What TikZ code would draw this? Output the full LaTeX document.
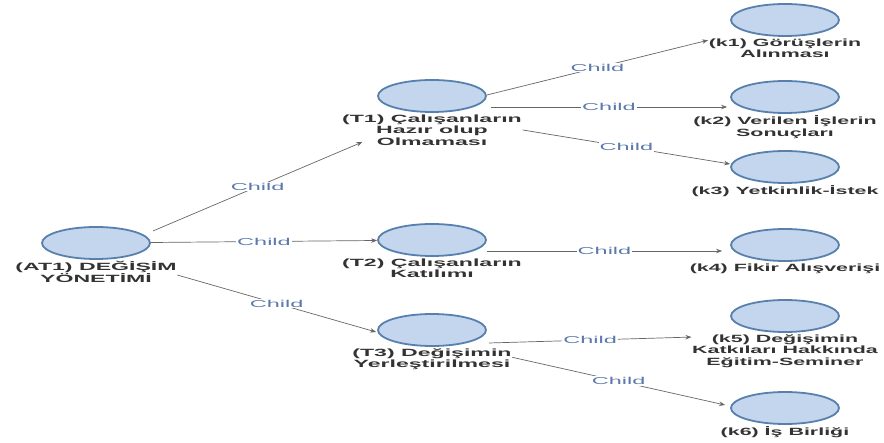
\documentclass[tikz,border=0pt]{standalone}
\usepackage{fontspec}
\setmainfont{Liberation Sans}[FakeStretch=2.2]
\newfontfamily\kodfont{Liberation Sans}[FakeStretch=2.04]
\newfontfamily\childfont{Liberation Sans}[FakeStretch=2.35]
\usetikzlibrary{arrows.meta,calc,positioning,shapes.geometric}

\definecolor{konuKenar}{RGB}{88,128,172}
\definecolor{konuDolgu}{RGB}{196,214,238}
\definecolor{childMavi}{RGB}{92,122,172}

\begin{document}
\begin{tikzpicture}[
  x=1pt, y=-1pt,
  konu/.style={ellipse, draw=konuKenar, line width=1.8pt, fill=konuDolgu, minimum width=108pt, minimum height=32pt, inner sep=0pt},
  ad/.style={font=\fontsize{10.5}{11.5}\selectfont\bfseries, align=center, inner sep=0.5pt, text=black!80, label distance=1pt},
  kodad/.style={ad, font=\fontsize{10.5}{11.5}\selectfont\kodfont\bfseries},
  edge/.style={-{Stealth[length=6pt,width=4.5pt]}, draw=black!60, line width=0.7pt},
  lbl/.style={font=\fontsize{10}{11}\selectfont\childfont, text=childMavi, fill=white, inner sep=1pt}
]
\useasboundingbox (0,0) rectangle (884,443);

% ana konu
\node[konu, label={[ad,name=at1t]below:{(AT1) DEĞİŞİM\\YÖNETİMİ}}] (at1) at (96,243) {};

% temalar
\node[konu, label={[ad,name=t1t]below:{(T1) Çalışanların\\Hazır olup\\Olmaması}}] (t1) at (432,96) {};
\node[konu, label={[ad,name=t2t]below:{(T2) Çalışanların\\Katılımı}}] (t2) at (432,240) {};
\node[konu, label={[ad,name=t3t]below:{(T3) Değişimin\\Yerleştirilmesi}}] (t3) at (432,330) {};

% kodlar
\node[konu, label={[kodad,name=k1t]below:{(k1) Görüşlerin\\Alınması}}] (k1) at (785,20) {};
\node[konu, label={[kodad,name=k2t]below:{(k2) Verilen İşlerin\\Sonuçları}}] (k2) at (785,97) {};
\node[konu, label={[kodad,name=k3t]below:{(k3) Yetkinlik-İstek}}] (k3) at (785,167) {};
\node[konu, label={[kodad,name=k4t]below:{(k4) Fikir Alışverişi}}] (k4) at (785,245) {};
\node[konu, label={[kodad,name=k5t]below:{(k5) Değişimin\\Katkıları Hakkında\\Eğitim-Seminer}}] (k5) at (785,316) {};
\node[konu, label={[kodad,name=k6t]below:{(k6) İş Birliği}}] (k6) at (785,408) {};

% baglantilar
\draw[edge] ([xshift=2pt,yshift=12pt]at1.east) -- node[lbl]{Child} ([xshift=21pt,yshift=4pt]t1t.south west);
\draw[edge] (at1) -- node[lbl]{Child} (t2);
\draw[edge] ([yshift=-3pt]at1t.east) -- node[lbl]{Child} ([xshift=-1pt,yshift=-2pt]t3.west);

\draw[edge] ([yshift=1pt]t1.east) -- node[lbl]{Child} ([yshift=8pt]k1t.west);
\draw[edge] ([xshift=4pt,yshift=-11pt]t1.east) -- node[lbl]{Child} ([xshift=-3pt,yshift=-10pt]k2.west);
\draw[edge] (t1t.east) -- node[lbl]{Child} ([yshift=3pt]k3.west);

\draw[edge] ([yshift=-11pt]t2.east) -- node[lbl]{Child} ([xshift=-8pt,yshift=-6pt]k4.west);

\draw[edge] ([xshift=2pt,yshift=-13pt]t3.east) -- node[lbl]{Child} ([yshift=14pt]k5t.west);
\draw[edge] ([yshift=2pt]t3t.east) -- node[lbl]{Child} ([xshift=-5pt,yshift=3pt]k6.west);
\end{tikzpicture}
\end{document}
